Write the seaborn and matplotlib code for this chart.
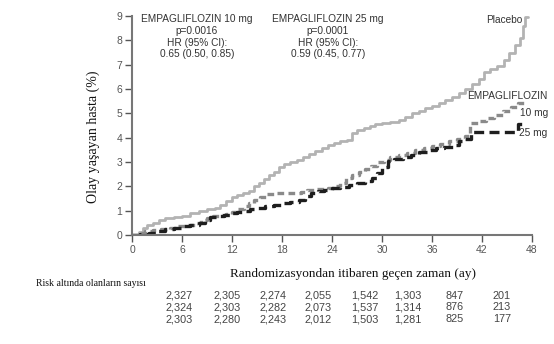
import matplotlib
matplotlib.use("Agg")
import matplotlib.pyplot as plt
import seaborn as sns

# ---- data (months, cumulative % with event) ----
placebo_t = [0, 0.8, 1.3, 1.8, 2.5, 3.2, 4.0, 5.0, 6.0, 7.0, 8.0, 9.0, 10.0, 10.6, 11.3, 12.0, 12.6,
             13.3, 14.0, 14.6, 15.2, 15.8, 16.4, 17.0, 17.6, 18.2, 19.0, 19.8, 20.5, 21.2, 22.0,
             22.8, 23.5, 24.2, 25.0, 25.8, 26.4, 27.0, 27.8, 28.5, 29.2, 30.0, 31.0, 32.0, 32.8,
             33.6, 34.4, 35.2, 36.0, 36.8, 37.6, 38.4, 39.2, 40.0, 40.8, 41.6, 42.3, 43.0, 43.8,
             44.6, 45.3, 46.0, 46.5, 46.9, 47.1, 47.5]
placebo_v = [0, 0.12, 0.3, 0.42, 0.5, 0.6, 0.68, 0.74, 0.8, 0.9, 1.0, 1.05, 1.1, 1.22, 1.38, 1.55, 1.65,
             1.72, 1.8, 2.0, 2.15, 2.3, 2.45, 2.6, 2.78, 2.92, 3.0, 3.1, 3.2, 3.32, 3.45,
             3.58, 3.7, 3.78, 3.85, 3.9, 4.2, 4.3, 4.38, 4.5, 4.58, 4.62, 4.66, 4.72, 4.85,
             5.0, 5.08, 5.2, 5.3, 5.42, 5.55, 5.68, 5.85, 6.0, 6.2, 6.4, 6.7, 6.82, 6.95,
             7.2, 7.5, 7.8, 8.1, 8.6, 8.95, 8.95]

emp10_t = [0, 0.8, 1.5, 2.5, 3.5, 4.5, 5.5, 6.5, 7.5, 8.3, 9.0, 9.7, 10.5, 11.3, 12.0, 12.7, 13.4,
           14.0, 14.7, 15.4, 16.2, 17.0, 20.3, 21.0, 22.0, 23.5, 24.3, 25.0, 25.7, 26.4, 27.2,
           28.0, 28.7, 29.4, 30.2, 31.0, 32.0, 33.0, 34.0, 35.0, 36.0, 37.0, 38.0, 39.0, 40.0,
           40.6, 41.5, 42.5, 43.5, 44.5, 45.5, 46.3, 47.5]
emp10_v = [0, 0.08, 0.15, 0.2, 0.26, 0.3, 0.36, 0.42, 0.5, 0.6, 0.7, 0.8, 0.84, 0.88, 0.95, 1.05, 1.18,
           1.3, 1.45, 1.57, 1.67, 1.72, 1.75, 1.85, 1.9, 1.93, 2.0, 2.15, 2.35, 2.48, 2.58,
           2.7, 2.85, 2.98, 3.1, 3.22, 3.3, 3.38, 3.48, 3.56, 3.64, 3.74, 3.85, 3.96, 4.05,
           4.6, 4.7, 4.8, 4.95, 5.1, 5.28, 5.42, 5.42]

emp25_t = [0, 1.0, 2.0, 3.0, 4.0, 5.0, 6.0, 7.0, 8.0, 8.7, 9.4, 10.2, 11.0, 11.8, 12.6, 13.4, 14.2,
           15.0, 16.0, 17.0, 18.0, 19.0, 20.0, 20.8, 21.5, 22.3, 23.0, 24.0, 25.0, 26.0, 27.0,
           28.0, 28.8, 29.4, 30.0, 30.7, 31.5, 32.5, 33.5, 34.5, 35.5, 36.5, 37.5, 38.5, 39.3,
           40.0, 40.7, 46.3, 46.9]
emp25_v = [0, 0.05, 0.1, 0.18, 0.25, 0.3, 0.35, 0.42, 0.5, 0.6, 0.72, 0.8, 0.84, 0.92, 0.96, 1.0, 1.05,
           1.1, 1.2, 1.25, 1.3, 1.36, 1.42, 1.62, 1.72, 1.8, 1.85, 1.93, 1.98, 2.05, 2.12,
           2.2, 2.35, 2.55, 2.8, 3.05, 3.12, 3.2, 3.3, 3.4, 3.5, 3.56, 3.62, 3.7, 3.88,
           3.95, 4.25, 4.55, 4.55]

x_ticks = [0, 6, 12, 18, 24, 30, 36, 42, 48]
y_ticks = list(range(0, 10))

risk_placebo = ["2,327", "2,305", "2,274", "2,055", "1,542", "1,303", "847", "201"]
risk_emp10 = ["2,324", "2,303", "2,282", "2,073", "1,537", "1,314", "876", "213"]
risk_emp25 = ["2,303", "2,280", "2,243", "2,012", "1,503", "1,281", "825", "177"]
risk_months = [5.7, 11.4, 16.9, 22.3, 27.9, 33.1, 38.7, 44.4]

# ---- figure ----
sns.set_theme(style="white")
plt.rcParams['font.family'] = ['Liberation Sans', 'DejaVu Sans']

W, H = 554, 344
fig = plt.figure(figsize=(W / 100, H / 100), dpi=100)
ax = fig.add_axes([132 / W, 1 - 235 / H, 400 / W, 219 / H])

sns.lineplot(x=placebo_t, y=placebo_v, ax=ax, drawstyle='steps-post', color='#b3b3b3',
             linewidth=2.0, estimator=None, sort=False)
sns.lineplot(x=emp10_t, y=emp10_v, ax=ax, drawstyle='steps-post', color='#8a8a8a',
             linewidth=2.4, estimator=None, sort=False, linestyle=(0, (2.0, 1.3)))
sns.lineplot(x=emp25_t, y=emp25_v, ax=ax, drawstyle='steps-post', color='#1e1e1e',
             linewidth=2.4, estimator=None, sort=False, linestyle=(0, (3.0, 1.6)))

ax.set_xlim(0, 48)
ax.set_ylim(0, 9)
ax.set_xticks(x_ticks)
ax.set_yticks(y_ticks)
ax.tick_params(axis='both', which='both', direction='out', length=5, width=1,
               color='#555555', labelcolor='#555555', labelsize=7.5, pad=2, left=True, bottom=True)
for s in ['top', 'right']:
    ax.spines[s].set_visible(False)
for s in ['left', 'bottom']:
    ax.spines[s].set_color('#777777')
    ax.spines[s].set_linewidth(1.5)
ax.grid(False)

ax.set_xlabel("Randomizasyondan itibaren geçen zaman (ay)", family='Liberation Serif',
              fontsize=9.5, color='#111111', labelpad=4)
ax.xaxis.set_label_coords((353 - 132) / 400, -(268 - 235) / 219)
ax.set_ylabel("Olay yaşayan hasta (%)", family='Liberation Serif', fontsize=10,
              color='#111111')
ax.yaxis.set_label_coords(-(132 - 100) / 400, (235 - 137) / 219)

# annotations
tc = '#333333'
fs = 7.3
for i, line in enumerate(["EMPAGLIFLOZIN 10 mg", "p=0.0016", "HR (95% CI):", "0.65 (0.50, 0.85)"]):
    ax.text(7.8, 8.89 - i * 0.49, line, ha='center', va='center', fontsize=fs, color=tc)
for i, line in enumerate(["EMPAGLIFLOZIN 25 mg", "p=0.0001", "HR (95% CI):", "0.59 (0.45, 0.77)"]):
    ax.text(23.5, 8.89 - i * 0.49, line, ha='center', va='center', fontsize=fs, color=tc)
ax.text(46.8, 8.85, "Placebo", ha='right', va='center', fontsize=fs, color=tc)
ax.text(49.9, 5.72, "EMPAGLIFLOZIN", ha='right', va='center', fontsize=fs, color=tc, clip_on=False)
ax.text(49.9, 5.0, "10 mg", ha='right', va='center', fontsize=fs, color=tc, clip_on=False)
ax.text(49.8, 4.2, "25 mg", ha='right', va='center', fontsize=fs, color=tc, clip_on=False)

# risk table
fig.text(91 / W, 1 - 283 / H, "Risk altında olanların sayısı", family='Liberation Serif',
         fontsize=7, color='#111111', ha='center', va='center')
for row, ypx in zip([risk_placebo, risk_emp10, risk_emp25], [296, 307.5, 319]):
    for m, val in zip(risk_months, row):
        xpx = 132 + m / 48 * 400
        fig.text(xpx / W, 1 - ypx / H, val, fontsize=7.8, color='#444444', ha='center', va='center')

fig.savefig("out.png", dpi=100)
